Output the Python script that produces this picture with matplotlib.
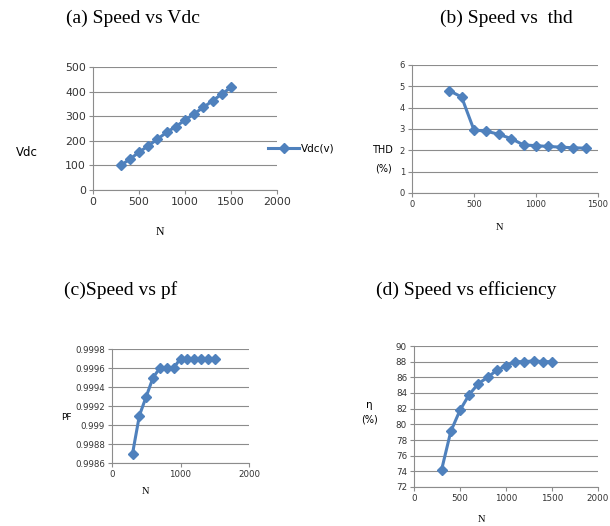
import matplotlib
matplotlib.use("Agg")
import matplotlib.pyplot as plt

# speed (rpm) and the measured quantities
speed_vdc = [300, 400, 500, 600, 700, 800, 900, 1000, 1100, 1200, 1300, 1400, 1500]
vdc = [100, 125, 154, 179, 207, 234, 258, 284, 310, 336, 363, 390, 417]

speed_thd = [300, 400, 500, 600, 700, 800, 900, 1000, 1100, 1200, 1300, 1400]
thd = [4.8, 4.5, 2.95, 2.9, 2.75, 2.55, 2.25, 2.22, 2.18, 2.15, 2.12, 2.1]

speed_pf = [300, 400, 500, 600, 700, 800, 900, 1000, 1100, 1200, 1300, 1400, 1500]
pf = [0.9987, 0.9991, 0.9993, 0.9995, 0.9996, 0.9996, 0.9996, 0.9997, 0.9997, 0.9997, 0.9997, 0.9997, 0.9997]

speed_eff = [300, 400, 500, 600, 700, 800, 900, 1000, 1100, 1200, 1300, 1400, 1500]
eff = [74.2, 79.1, 81.8, 83.8, 85.2, 86.0, 86.9, 87.5, 88.0, 88.0, 88.1, 88.0, 88.0]

W, H = 610, 526
BLUE = "#4F81BD"
GRID = "#8c8c8c"
TICKFONT = "DejaVu Sans"
SERIF = "Liberation Serif"

fig = plt.figure(figsize=(W / 100, H / 100), dpi=100)


def px_axes(left, top, right, bottom):
    return fig.add_axes([left / W, 1 - bottom / H, (right - left) / W, (bottom - top) / H])


def style(ax, fs):
    for s in ("top", "right"):
        ax.spines[s].set_visible(False)
    for s in ("left", "bottom"):
        ax.spines[s].set_color(GRID)
        ax.spines[s].set_linewidth(0.8)
    ax.yaxis.grid(True, color=GRID, linewidth=0.8)
    ax.set_axisbelow(True)
    ax.tick_params(length=3, width=0.8, color=GRID, labelsize=fs, labelcolor="#333333", pad=2)
    for lab in ax.get_xticklabels() + ax.get_yticklabels():
        lab.set_family(TICKFONT)


def put(x, y, s, size, family=TICKFONT, **kw):
    kw.setdefault("va", "center")
    fig.text(x / W, 1 - y / H, s, fontsize=size, family=family, ha="center", **kw)


def draw(ax, x, y, **kw):
    ax.plot(x, y, color=BLUE, marker="D", markersize=5.5, linewidth=2.2, **kw)


# (a) speed vs Vdc
ax = px_axes(93, 67, 277, 190)
draw(ax, speed_vdc, vdc, label="Vdc(v)")
ax.set_xlim(0, 2000)
ax.set_ylim(0, 500)
ax.set_xticks(range(0, 2001, 500))
ax.set_yticks(range(0, 501, 100))
style(ax, 7.8)
ax.legend(loc="center left", bbox_to_anchor=(0.9, 0.34), frameon=False, handlelength=3,
          prop={"family": TICKFONT, "size": 7.5}, handletextpad=0.2)
put(27, 152, "Vdc", 8.5)
put(160, 232, "N", 8.5, family=SERIF)

# (b) speed vs THD
ax = px_axes(412, 65, 598, 193)
draw(ax, speed_thd, thd)
ax.set_xlim(0, 1500)
ax.set_ylim(0, 6)
ax.set_xticks(range(0, 1501, 500))
ax.set_yticks(range(0, 7))
style(ax, 6)
put(382, 150, "THD", 7)
put(383, 168, "(%)", 7)
put(500, 228, "N", 7.5, family=SERIF)

# (c) speed vs power factor
ax = px_axes(112, 349, 249, 463)
draw(ax, speed_pf, pf)
ax.set_xlim(0, 2000)
ax.set_ylim(0.9986, 0.9998)
ax.set_xticks(range(0, 2001, 1000))
ax.set_yticks([0.9986, 0.9988, 0.999, 0.9992, 0.9994, 0.9996, 0.9998])
ax.set_yticklabels(["0.9986", "0.9988", "0.999", "0.9992", "0.9994", "0.9996", "0.9998"])
style(ax, 6.2)
put(66, 418, "PF", 6.5)
put(145, 492, "N", 7.5, family=SERIF)

# (d) speed vs efficiency
ax = px_axes(414, 346, 598, 487)
draw(ax, speed_eff, eff)
ax.set_xlim(0, 2000)
ax.set_ylim(72, 90)
ax.set_xticks(range(0, 2001, 500))
ax.set_yticks(range(72, 91, 2))
style(ax, 6.3)
put(369, 405, "η", 7.5)
put(370, 420, "(%)", 7)
put(482, 520, "N", 7.5, family=SERIF)

# panel captions
put(133, 18, "(a) Speed vs Vdc", 14, family=SERIF)
put(506, 18, "(b) Speed vs  thd", 14, family=SERIF)
put(121, 290, "(c)Speed vs pf", 14, family=SERIF)
put(466, 290, "(d) Speed vs efficiency", 14, family=SERIF)

fig.savefig("out.png", dpi=100)
